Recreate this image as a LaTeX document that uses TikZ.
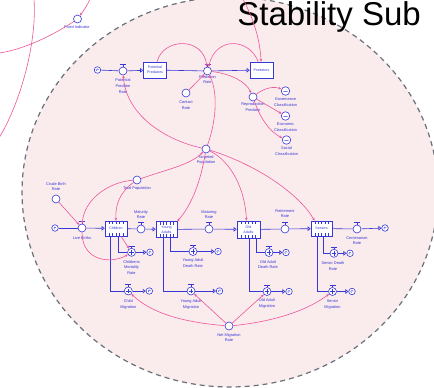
\documentclass[tikz,border=0pt]{standalone}
\usepackage{fontspec}
\setmainfont{Liberation Sans}
\usetikzlibrary{arrows.meta,calc}
\definecolor{sdblue}{RGB}{55,55,215}
\definecolor{sdpink}{RGB}{238,85,155}
\definecolor{bgpink}{RGB}{250,235,237}
\definecolor{dashgray}{RGB}{105,112,122}
\tikzset{
 aux/.style={circle,draw=sdblue,fill=white,line width=0.6pt,minimum size=8pt,inner sep=0pt},
 gfn/.style={aux,minimum size=8.5pt},
 cloudnode/.style={circle,draw=sdblue,fill=white,line width=0.6pt,minimum size=6.5pt,inner sep=0pt},
 stockbox/.style={rectangle,draw=sdblue,fill=white,line width=0.6pt,inner sep=0pt,text=sdblue,font=\fontsize{3.6}{4.6}\selectfont,align=center},
 lbl/.style={text=sdblue,font=\fontsize{3.9}{5.7}\selectfont,align=center,inner sep=0pt},
 flowline/.style={draw=sdblue,line width=0.6pt},
 flowarrow/.style={flowline,-{Triangle[open,length=3pt,width=4.5pt]}},
 link/.style={draw=sdpink,line width=0.6pt,-{Stealth[length=3pt,width=2.6pt]}},
 plainlink/.style={draw=sdpink,line width=0.6pt},
}
\newcommand\valveT[1]{\draw[sdblue,line width=0.5pt] (#1.north) -- ++(0,-2) (#1.north) ++(-3,-2.2) -- ++(6,0);}
\newcommand\valvePlus[1]{\valveT{#1}\draw[sdblue,line width=0.45pt] (#1.center) ++(-2.4,0) -- ++(4.8,0) (#1.center) ++(0,-2.4) -- ++(0,4.8);}
\newcommand\cloudmark[1]{\draw[sdblue,line width=0.4pt] (#1.center) ++(1.2,0) arc[start angle=0,end angle=250,radius=1.2pt];}
\newcommand\gfnmark[1]{\draw[sdblue,line width=0.45pt] (#1.center) ++(-2.2,0.4) .. controls ++(1,-1.6) and ++(-1,1.6) .. ++(2.2,0) .. controls ++(1,-1.6) and ++(-1,1.6) .. ++(2.2,0);}
\newcommand\conveyor[1]{\foreach \f in {0.2,0.35,0.5,0.65,0.8}{\draw[sdblue,line width=0.4pt] ($(#1.north west)!\f!(#1.north east)$) -- ++(0,3.5) ($(#1.south west)!\f!(#1.south east)$) -- ++(0,-3.5);}}
\begin{document}
\begin{tikzpicture}[x=1pt,y=-1pt]
\useasboundingbox (0,0) rectangle (434,388);
\fill[white] (0,0) rectangle (434,388);
% background ellipse
\fill[bgpink] (230,192) ellipse [x radius=208, y radius=195];
\draw[dashgray,line width=1.2pt,dash pattern=on 5pt off 4pt] (230,192) ellipse [x radius=208, y radius=195];
% title
\node[anchor=base east,inner sep=0,font=\fontsize{33}{33}\selectfont] (title) at (421,25) {Stability Sub};

% outside part
\node[aux] (aFI) at (77.5,19) {};
\node[lbl] (lFI) at (77,27.3) {Fixed Indicator};
\coordinate (o1a) at (34,-1);
\coordinate (o1b) at (-1,138);
\coordinate (o2a) at (90,-1);
\coordinate (o2b) at (-1,53);
\draw[plainlink] (o1a) .. controls (37,40) and (22,100) .. (o1b);
\draw[link] (o2a) .. controls (87,6) and (84,10) .. (aFI);
\draw[plainlink] (aFI) .. controls (52,36) and (22,50) .. (o2b);

% predator sector
\node[cloudnode] (c1) at (97.5,70) {}; \cloudmark{c1}
\node[aux] (vPPR) at (123,71) {}; \valveT{vPPR}
\node[lbl] at (123,86) {Potential\\Predator\\Rate};
\node[stockbox,minimum width=23pt,minimum height=16pt] (sPP) at (155,70) {Potential\\Predators};
\node[aux] (vPR) at (207.5,71) {}; \valveT{vPR}
\node[lbl] at (207.5,79.5) {Predation\\Rate};
\node[stockbox,minimum width=23pt,minimum height=16pt] (sP) at (261.5,70) {Predators};
\node[aux] (aCR) at (186,93) {};
\node[lbl] at (186,105.5) {Contact\\Rate};
\node[aux] (aRP) at (253,97) {};
\node[lbl] at (253,107) {Reproduction\\Predator};
\node[gfn] (gGov) at (285.5,91) {}; \gfnmark{gGov}
\node[lbl] at (285.5,102.5) {Governance\\Classification};
\node[gfn] (gEco) at (285.5,116) {}; \gfnmark{gEco}
\node[lbl] at (285.5,127) {Economic\\Classification};
\node[gfn] (gSoc) at (286.5,140) {}; \gfnmark{gSoc}
\node[lbl] at (286.5,151) {Social\\Classification};
\coordinate (ctop) at (243,-1);

\draw[flowline] (c1) -- (vPPR);
\draw[flowarrow] (vPPR) -- (sPP);
\draw[flowline] (sPP) -- (vPR);
\draw[flowarrow] (vPR) -- (sP);

% population sector
\node[aux] (aTP) at (206,149) {};
\node[lbl] at (206,160) {Targeted\\Population};
\node[aux] (aTot) at (137,180) {};
\node[lbl] at (137,188) {Total Population};
\node[aux] (aCBR) at (56,199) {};
\node[lbl] at (56,186.5) {Crude Birth\\Rate};

\node[cloudnode] (c2) at (55,228) {}; \cloudmark{c2}
\node[aux] (vLB) at (82,228) {}; \valveT{vLB}
\node[lbl] at (82,238) {Live Births};
\node[stockbox,minimum width=22pt,minimum height=15pt] (sC) at (116,228.5) {Children}; \conveyor{sC}
\node[aux] (vMR) at (141,229) {}; \valveT{vMR}
\node[lbl] at (141,214.5) {Maturity\\Rate};
\node[stockbox,minimum width=21pt,minimum height=16pt] (sYA) at (166.5,229.5) {Young\\Adults}; \conveyor{sYA}
\node[aux] (vAR) at (209,229) {}; \valveT{vAR}
\node[lbl] at (209,214.5) {Maturing\\Rate};
\node[stockbox,minimum width=23pt,minimum height=17pt] (sOA) at (248.5,229.5) {Old\\Adults}; \conveyor{sOA}
\node[aux] (vRR) at (285,229) {}; \valveT{vRR}
\node[lbl] at (285,213.5) {Retirement\\Rate};
\node[stockbox,minimum width=21pt,minimum height=15pt] (sS) at (321.5,228.5) {Seniors}; \conveyor{sS}
\node[aux] (vCR) at (357,229) {}; \valveT{vCR}
\node[lbl] at (357,240.5) {Centenarian\\Rate};
\node[cloudnode] (c3) at (385,228) {}; \cloudmark{c3}

\draw[flowline] (c2) -- (vLB);
\draw[flowarrow] (vLB) -- (sC);
\draw[flowline] (sC) -- (vMR);
\draw[flowarrow] (vMR) -- (sYA);
\draw[flowline] (sYA) -- (vAR);
\draw[flowarrow] (vAR) -- (sOA);
\draw[flowline] (sOA) -- (vRR);
\draw[flowarrow] (vRR) -- (sS);
\draw[flowline] (sS) -- (vCR);
\draw[flowarrow] (vCR) -- (c3);

% death outflows
\node[aux] (vCM) at (131.5,252.3) {}; \valvePlus{vCM}
\node[cloudnode] (cCM) at (150,252.3) {}; \cloudmark{cCM}
\node[lbl] at (131.5,267.5) {Childrens\\Mortality\\Rate};
\node[aux] (vYD) at (193,251.5) {}; \valvePlus{vYD}
\node[cloudnode] (cYD) at (218,251.5) {}; \cloudmark{cYD}
\node[lbl] at (193,263.3) {Young Adult\\Death Rate};
\node[aux] (vOD) at (269,252.5) {}; \valvePlus{vOD}
\node[cloudnode] (cOD) at (286,252.5) {}; \cloudmark{cOD}
\node[lbl] at (268,264.5) {Old Adult\\Death Rate};
\node[aux] (vSD) at (334,253.3) {}; \valvePlus{vSD}
\node[cloudnode] (cSD) at (350,253.3) {}; \cloudmark{cSD}
\node[lbl] at (333,266.3) {Senior Death\\Rate};

\draw[flowline] ([xshift=2pt]sC.south) |- (vCM);
\draw[flowarrow] (vCM) -- (cCM);
\draw[flowline] ([xshift=3.5pt]sYA.south) |- (vYD);
\draw[flowarrow] (vYD) -- (cYD);
\draw[flowline] ([xshift=7.5pt]sOA.south) |- (vOD);
\draw[flowarrow] (vOD) -- (cOD);
\draw[flowline] ([xshift=1.5pt]sS.south) |- (vSD);
\draw[flowarrow] (vSD) -- (cSD);

% migration flows
\node[aux] (vCMg) at (128.3,291) {}; \valvePlus{vCMg}
\node[cloudnode] (cCMg) at (149.3,291) {}; \cloudmark{cCMg}
\node[lbl] at (128.3,304.5) {Child\\Migration};
\node[aux] (vYMg) at (191,291) {}; \valvePlus{vYMg}
\node[cloudnode] (cYMg) at (219.5,291) {}; \cloudmark{cYMg}
\node[lbl] at (191,304.5) {Young Adult\\Migration};
\node[aux] (vOMg) at (267,291.5) {}; \valvePlus{vOMg}
\node[cloudnode] (cOMg) at (289,291.5) {}; \cloudmark{cOMg}
\node[lbl] at (267,303.7) {Old Adult\\Migration};
\node[aux] (vSMg) at (332.5,291.5) {}; \valvePlus{vSMg}
\node[cloudnode] (cSMg) at (352,291.5) {}; \cloudmark{cSMg}
\node[lbl] at (332.5,304.7) {Senior\\Migration};

\draw[flowline] ([xshift=-6pt]sC.south) |- (vCMg);
\draw[flowarrow] (vCMg) -- (cCMg);
\draw[flowline] ([xshift=-3.2pt]sYA.south) |- (vYMg);
\draw[flowarrow] (vYMg) -- (cYMg);
\draw[flowline] ([xshift=1pt]sOA.south) |- (vOMg);
\draw[flowarrow] (vOMg) -- (cOMg);
\draw[flowline] ([xshift=-4.5pt]sS.south) |- (vSMg);
\draw[flowarrow] (vSMg) -- (cSMg);

\node[aux] (aNM) at (229,326) {};
\node[lbl] at (229,337.5) {Net Migration\\Rate};

% information links
\draw[link] (sPP) .. controls (163,38) and (203,36) .. (vPR);
\draw[link] (sP) .. controls (249,38) and (216,36) .. (vPR);
\draw[link] (aCR) -- (vPR);
\draw[link] (ctop) .. controls (254,20) and (260,40) .. (sP);
\draw[link] (aTP) .. controls (165,140) and (126,115) .. (vPPR);
\draw[link] (aTP) .. controls (215,125) and (219,95) .. (vPR);
\draw[link] (vPR) .. controls (232,74) and (246,82) .. (aRP);
\draw[link] (aRP) .. controls (264,88) and (274,86) .. (gGov);
\draw[link] (aRP) -- (gEco);
\draw[link] (aRP) .. controls (260,118) and (270,132) .. (gSoc);
\draw[link] (aTot) .. controls (165,170) and (190,165) .. (aTP);
\draw[link] (aTP) .. controls (201,180) and (192,205) .. (sYA.north east);
\draw[link] (aTP) .. controls (232,162) and (245,190) .. ([xshift=-2pt]sOA.north);
\draw[link] (aTP) .. controls (258,165) and (300,195) .. ([xshift=-7pt]sS.north);
\draw[link] (aTot) .. controls (120,192) and (115,205) .. (sC.north);
\draw[link] (aTot) .. controls (108,182) and (84,200) .. (vLB);
\draw[link] (aCBR) -- (vLB);
\draw[link] (vLB) .. controls (82,262) and (112,264) .. (vCM);
\draw[link] (sC) -- (vCM);
\draw[link] (aNM) .. controls (180,322) and (150,312) .. (vCMg);
\draw[link] (aNM) -- (vYMg);
\draw[link] (aNM) -- (vOMg);
\draw[link] (aNM) .. controls (270,322) and (305,312) .. (vSMg);
\end{tikzpicture}
\end{document}
